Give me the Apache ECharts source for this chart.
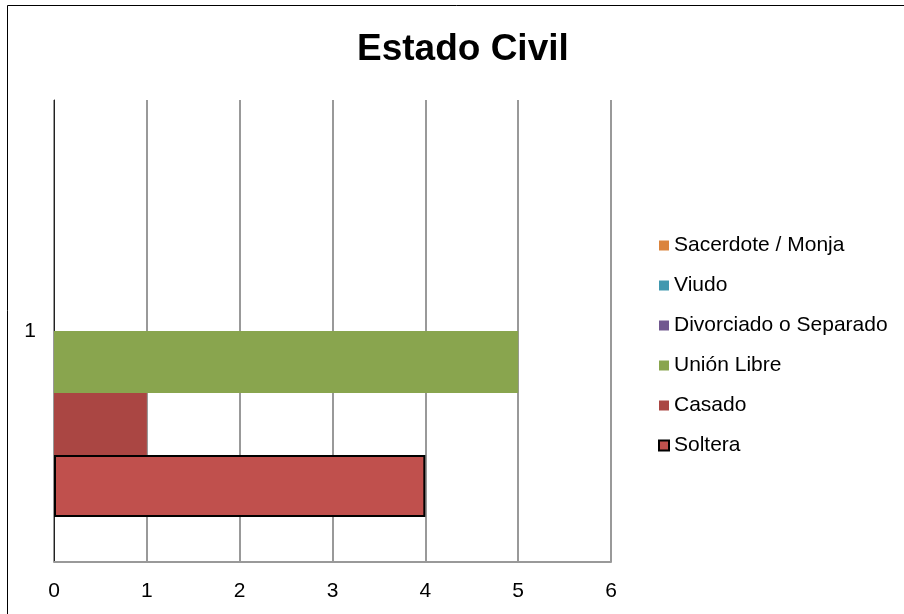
<!DOCTYPE html>
<html>
<head>
<meta charset="utf-8">
<script src="https://cdn.jsdelivr.net/npm/echarts@6/dist/echarts.min.js"></script>
<style>html,body{margin:0;padding:0;background:#fff;}#c{width:904px;height:614px;}</style>
</head>
<body>
<div id="c"></div>
<script>
var categories = ['1'];
var seriesNames = ['Sacerdote / Monja', 'Viudo', 'Divorciado o Separado', 'Unión Libre', 'Casado', 'Soltera'];
var sacerdote = [0];
var viudo = [0];
var divorciado = [0];
var unionLibre = [5];
var casado = [1];
var soltera = [4];
var xTicks = [0, 1, 2, 3, 4, 5, 6];
var colors = ['#DB843D', '#4198AF', '#71588F', '#89A54E', '#AA4643', '#C0504D'];
var values = [sacerdote, viudo, divorciado, unionLibre, casado, soltera];

var chart = echarts.init(document.getElementById('c'), null, {renderer: 'canvas'});
var font = '"Liberation Sans", Arial, sans-serif';
var series = seriesNames.map(function (n, i) {
  var s = {
    name: n, type: 'bar', data: values[i],
    barGap: '0%', barCategoryGap: '19.5%',
    itemStyle: {color: colors[i]},
    emphasis: {disabled: true}
  };
  if (n === 'Soltera') { s.itemStyle.borderColor = '#000'; s.itemStyle.borderWidth = 2; }
  return s;
});
chart.setOption({
  animation: false,
  color: colors,
  textStyle: {fontFamily: font},
  graphic: [{type: 'rect', shape: {x: 7.5, y: 5.5, width: 1000, height: 1000}, style: {fill: 'none', stroke: '#000', lineWidth: 1}, z: -1}],
  title: {text: 'Estado Civil', left: 352, top: 26, textStyle: {fontFamily: font, fontSize: 37, fontWeight: 'bold', color: '#000'}},
  legend: {
    orient: 'vertical', left: 658, top: 235, padding: 0,
    itemWidth: 10, itemHeight: 10, itemGap: 19,
    data: seriesNames.slice(),
    textStyle: {fontFamily: font, fontSize: 21, color: '#000', lineHeight: 21},
    icon: 'rect'
  },
  grid: {left: 54, right: 293, top: 100, bottom: 52, containLabel: false},
  xAxis: {
    type: 'value', min: 0, max: 6, interval: 1,
    axisLine: {show: true, lineStyle: {color: '#999', width: 2}},
    axisTick: {show: false},
    axisLabel: {color: '#000', fontSize: 21, fontFamily: font, margin: 19,
      formatter: function (v) { return xTicks.indexOf(v) >= 0 ? String(v) : ''; }},
    splitLine: {show: true, lineStyle: {color: '#999', width: 2}}
  },
  yAxis: {
    type: 'category', data: categories,
    axisLine: {show: true, lineStyle: {color: '#222', width: 1}},
    axisTick: {show: false},
    axisLabel: {color: '#000', fontSize: 21, fontFamily: font, margin: 18}
  },
  series: series
});
</script>
</body>
</html>
